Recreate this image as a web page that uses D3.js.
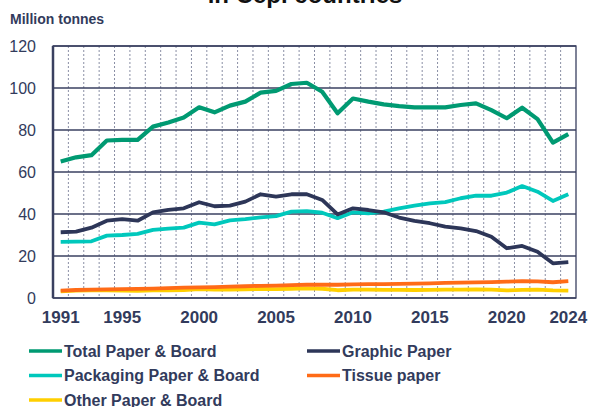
<!DOCTYPE html>
<html>
<head>
<meta charset="utf-8">
<script src="https://cdn.jsdelivr.net/npm/d3@7"></script>
<style>
  body { margin: 0; background: #fff; }
  svg { display: block; font-family: 'Liberation Sans', Arial, sans-serif; }
</style>
</head>
<body>
<div id="chart"></div>
<script>
// Production by grade, million tonnes
const years = d3.range(1991, 2025);
const tickYears = [1991, 1995, 2000, 2005, 2010, 2015, 2020, 2024];
const yTicks = [0, 20, 40, 60, 80, 100, 120];

const totalBoard = [65, 67, 68, 75, 75.3, 75.3, 81.6, 83.6, 86, 90.8, 88.4, 91.6, 93.5, 97.8, 98.6, 101.9,
  102.5, 98.2, 88, 95, 93.5, 92.2, 91.4, 90.8, 90.8, 90.8, 91.9, 92.7, 89.5, 85.6, 90.6, 85.2, 74, 78];
const graphic = [31.3, 31.6, 33.5, 36.8, 37.6, 36.8, 40.8, 42, 42.7, 45.6, 43.7, 44, 45.9, 49.4, 48.3, 49.4,
  49.4, 46.7, 39.8, 42.7, 41.9, 40.8, 38.3, 36.7, 35.6, 34, 33.2, 31.9, 29.2, 23.7, 24.8, 22, 16.5, 17.1];
const packaging = [26.7, 26.8, 27, 29.7, 30, 30.5, 32.4, 33, 33.5, 35.9, 35.1, 37, 37.6, 38.4, 39, 41.1,
  41.4, 40.6, 38, 40.8, 40.3, 41.1, 42.7, 44, 45.1, 45.7, 47.5, 48.7, 48.7, 50.2, 53.3, 50.6, 46.2, 49.4];
const tissue = [3.5, 3.8, 4, 4.1, 4.2, 4.3, 4.5, 4.7, 4.9, 5.1, 5.2, 5.4, 5.6, 5.8, 5.9, 6.1,
  6.3, 6.4, 6.3, 6.5, 6.6, 6.6, 6.7, 6.8, 7, 7.2, 7.3, 7.4, 7.6, 7.8, 8, 7.9, 7.5, 8];
const other = [3.2, 3.5, 3.6, 3.6, 3.5, 3.4, 3.6, 3.7, 3.8, 4.2, 4, 4, 4.1, 4.3, 4.2, 4.4,
  4.6, 4.4, 3.7, 4, 4, 3.9, 3.9, 3.8, 3.9, 4, 4, 4.1, 4, 3.6, 3.9, 4, 3.6, 3.5];

const series = [
  { name: 'Other Paper & Board', values: other, color: '#ffcf00' },
  { name: 'Tissue paper', values: tissue, color: '#ff6b17' },
  { name: 'Packaging Paper & Board', values: packaging, color: '#00c8bc' },
  { name: 'Graphic Paper', values: graphic, color: '#2d3658' },
  { name: 'Total Paper & Board', values: totalBoard, color: '#009a72' },
];
const legendOrder = ['Total Paper & Board', 'Graphic Paper', 'Packaging Paper & Board', 'Tissue paper', 'Other Paper & Board'];

const textColor = '#323b5c';
const width = 590;
const height = 407;
const margin = { top: 46, right: 14, bottom: 109, left: 53 };
const plotW = width - margin.left - margin.right;
const plotH = height - margin.top - margin.bottom;

const svg = d3.select('#chart').append('svg')
  .attr('width', width)
  .attr('height', height);

// title, mostly cut off above the frame
svg.append('text')
  .attr('x', 305)
  .attr('y', 3)
  .attr('text-anchor', 'middle')
  .style('font-size', '24px')
  .style('font-weight', 'bold')
  .style('fill', '#111')
  .text('in Cepi countries');

svg.append('text')
  .attr('x', 10)
  .attr('y', 24)
  .style('font-size', '14px')
  .style('font-weight', 'bold')
  .style('fill', textColor)
  .text('Million tonnes');

const g = svg.append('g')
  .attr('transform', `translate(${margin.left},${margin.top})`);

const x = d3.scaleBand().domain(years).range([0, plotW]);
const y = d3.scaleLinear().domain([0, 120]).range([plotH, 0]);

// dotted lines between categories
g.append('g')
  .selectAll('line')
  .data(years.slice(1))
  .enter().append('line')
  .attr('x1', d => x(d))
  .attr('x2', d => x(d))
  .attr('y1', 0)
  .attr('y2', plotH)
  .attr('stroke', '#8a8fa5')
  .attr('stroke-width', 1)
  .attr('stroke-dasharray', '2,2');

// horizontal grid
g.append('g')
  .selectAll('line')
  .data(yTicks)
  .enter().append('line')
  .attr('x1', 0)
  .attr('x2', plotW)
  .attr('y1', d => y(d))
  .attr('y2', d => y(d))
  .attr('stroke', '#3a4060')
  .attr('stroke-width', 1.3);

g.append('rect')
  .attr('width', plotW)
  .attr('height', plotH)
  .attr('fill', 'none')
  .attr('stroke', '#3a4060')
  .attr('stroke-width', 1.3);

g.append('line')
  .attr('x1', 0).attr('x2', 0)
  .attr('y1', 0).attr('y2', plotH)
  .attr('stroke', '#3a4060')
  .attr('stroke-width', 2.5);

const yAxis = g.append('g')
  .call(d3.axisLeft(y).tickValues(yTicks).tickSize(0).tickPadding(17));
yAxis.select('.domain').remove();
yAxis.selectAll('text')
  .style('font-size', '16px')
  .style('font-family', "'Liberation Sans', Arial, sans-serif")
  .style('fill', textColor);

const xAxis = g.append('g')
  .attr('transform', `translate(0,${plotH})`)
  .call(d3.axisBottom(x).tickValues(tickYears).tickSize(0).tickPadding(13));
xAxis.select('.domain').remove();
xAxis.selectAll('text')
  .style('font-size', '17px')
  .style('font-weight', 'bold')
  .style('font-family', "'Liberation Sans', Arial, sans-serif")
  .style('fill', textColor);

const line = d3.line()
  .x((d, i) => x(years[i]) + x.bandwidth() / 2)
  .y(d => y(d));

g.selectAll('.series')
  .data(series)
  .enter().append('path')
  .attr('class', 'series')
  .attr('d', d => line(d.values))
  .attr('fill', 'none')
  .attr('stroke', d => d.color)
  .attr('stroke-width', d => (d.name === 'Total Paper & Board' ? 4.2 : 3.8))
  .attr('stroke-linejoin', 'round');

// legend
const colorOf = name => series.find(s => s.name === name).color;
const legend = svg.selectAll('.legend')
  .data(legendOrder)
  .enter().append('g')
  .attr('class', 'legend')
  .attr('transform', (d, i) => `translate(${i % 2 === 0 ? 29 : 307},${351 + Math.floor(i / 2) * 24.5})`);

legend.append('line')
  .attr('x1', 0)
  .attr('x2', 33)
  .attr('stroke', d => colorOf(d))
  .attr('stroke-width', 3.5);

legend.append('text')
  .attr('x', 35)
  .attr('dy', '.35em')
  .style('font-size', '16px')
  .style('font-weight', 'bold')
  .style('fill', textColor)
  .text(d => d);
</script>
</body>
</html>
